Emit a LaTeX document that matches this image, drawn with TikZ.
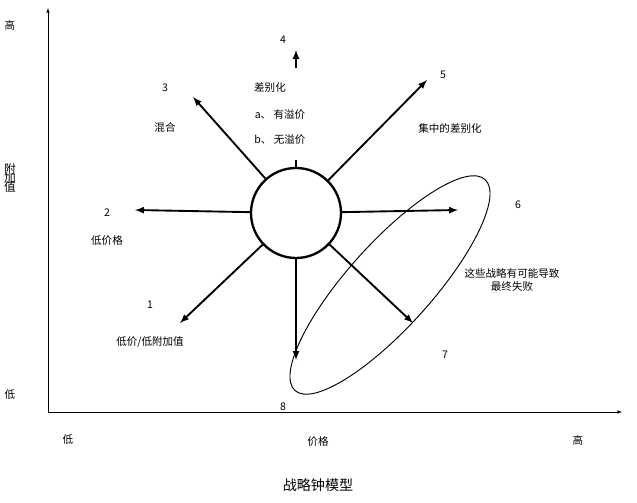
\documentclass[tikz,border=0pt]{standalone}
\usepackage{fontspec}
\setmainfont{Noto Sans CJK SC}
\begin{document}
\begin{tikzpicture}[x=0.03cm,y=-0.03cm,
    spoke/.style={line width=1.6pt,-latex},
    lbl/.style={font=\small}]
	\useasboundingbox (0,0) rectangle (637,503);
	% axes
	\coordinate (o) at (48,412);
	\coordinate (ytop) at (48,8);
	\coordinate (xend) at (622,412);
	\draw[-latex] (o) -- (ytop);
	\draw[-latex] (o) -- (xend);
	\node[lbl] (yhi) at (10,25) {高};
	\node[lbl,align=center,font=\normalsize] (yname) at (10,178) {附\\[-4pt]加\\[-4pt]值};
	\node[lbl] (ylo) at (10,395) {低};
	\node[lbl] (xlo) at (68,440) {低};
	\node[lbl] (xname) at (318,442) {价格};
	\node[lbl] (xhi) at (578,440) {高};
	\node[font=\large] (title) at (318,485) {战略钟模型};
	% clock
	\node[circle,draw,line width=2pt,minimum size=2.7cm] (c) at (296,213) {};
	\foreach \p in {(135,210),(458,210),(296,360),(193,97),(427,80),(180,323),(413,323)}
		\draw[spoke] (c) -- \p;
	\coordinate (stub) at (296,160);
	\draw[line width=1.6pt] (c) -- (stub);
	\coordinate (s4a) at (296,68);
	\coordinate (s4b) at (296,50);
	\draw[spoke] (s4a) -- (s4b);
	% failure zone
	\draw[thick] (390,285) ellipse[x radius=142,y radius=42,rotate=48];
	% labels
	\node[lbl] (n1) at (150,305) {1};
	\node[lbl] (t1) at (150,342) {低价/低附加值};
	\node[lbl] (n2) at (107,213) {2};
	\node[lbl] (t2) at (107,241) {低价格};
	\node[lbl] (n3) at (165,88) {3};
	\node[lbl] (t3) at (165,127) {混合};
	\node[lbl] (n4) at (283,40) {4};
	\node[lbl] (t4) at (270,88) {差别化};
	\node[lbl] (t4a) at (280,115) {a、 有溢价};
	\node[lbl] (t4b) at (280,140) {b、 无溢价};
	\node[lbl] (n5) at (443,75) {5};
	\node[lbl] (t5) at (450,128) {集中的差别化};
	\node[lbl] (n6) at (518,205) {6};
	\node[lbl,align=center] (t6) at (512,280) {这些战略有可能导致\\最终失败};
	\node[lbl] (n7) at (445,355) {7};
	\node[lbl] (n8) at (283,407) {8};
\end{tikzpicture}
\end{document}
